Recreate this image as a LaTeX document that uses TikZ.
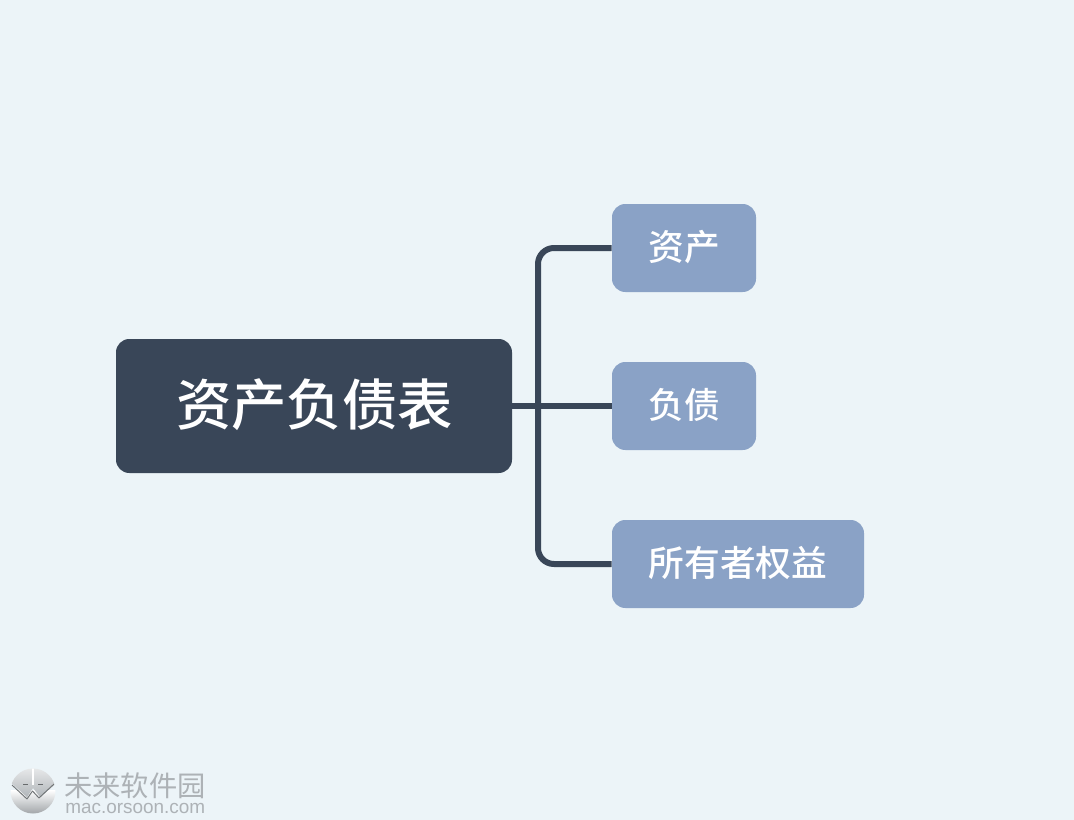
\documentclass[tikz,border=0pt]{standalone}
\usepackage{fontspec}
\setmainfont{Liberation Sans}
\newfontfamily\cjk{Noto Sans CJK SC Medium}
\newfontfamily\cjkplain{Noto Sans CJK SC}
\usetikzlibrary{shadings}
\definecolor{bgc}{HTML}{ECF4F8}
\definecolor{darkc}{HTML}{394658}
\definecolor{subc}{HTML}{8AA2C6}
\definecolor{wmc}{HTML}{ADB2B6}
\tikzset{
  x=0.75pt,y=-0.75pt,
  rootbox/.style={fill=darkc,rounded corners=10pt,inner sep=0},
  subbox/.style={fill=subc,rounded corners=10pt,inner sep=0},
  rootlabel/.style={text=white,inner sep=0,font=\cjk\fontsize{41.5}{42}\selectfont},
  sublabel/.style={text=white,inner sep=0,font=\cjk\fontsize{26.8}{27}\selectfont},
  conn/.style={draw=darkc,line width=4.5pt,rounded corners=12pt},
  wmtext/.style={text=wmc,inner sep=0,anchor=west}
}
\begin{document}
\begin{tikzpicture}
\useasboundingbox (0,0) rectangle (1074,820);
\fill[bgc] (0,0) rectangle (1074,820);

\coordinate (bus1) at (538,406);
\coordinate (bus0) at (538,248);
\coordinate (bus2) at (538,564);
\node[subbox,minimum width=108pt,minimum height=66pt] (a) at (684,248) {};
\node[subbox,minimum width=108pt,minimum height=66pt] (b) at (684,406) {};
\node[subbox,minimum width=189pt,minimum height=66pt] (c) at (738,564) {};
\node[rootbox,minimum width=297pt,minimum height=100.5pt] (root) at (314,406) {};
\draw[conn] (root.east) -- (b.west);
\draw[conn] (a.west) -- (bus0) -- (bus1) -- (bus2) -- (c.west);

\node[rootlabel] (roott) at (314.5,405) {资产负债表};
\node[sublabel] (at) at (684,247) {资产};
\node[sublabel] (bt) at (684,405) {负债};
\node[sublabel] (ct) at (738,563) {所有者权益};

% watermark logo
\begin{scope}
\clip (33,791) circle[radius=22.5];
\shade[top color=white,middle color=white,bottom color=wmc!90!black] (8,790) rectangle (58,815);
\shade[top color=wmc!25!white,bottom color=wmc!95!white]
  (8,766) -- (58,766) -- (58,782) -- (40,797) -- (33,788) -- (27,797) -- (8,780) -- cycle;
\draw[white,line width=1pt] (33,766) -- (33,785);
\draw[wmc!65!black,line width=.7pt,line join=round] (12,785) -- (27,799) -- (32.5,791) -- (39,798) -- (54,784);
\draw[wmc!60!black,line width=.7pt] (23,784) -- (28,784) (38,784) -- (43,784);
\end{scope}
\node[wmtext,font=\cjkplain\fontsize{21.2}{21}\selectfont] (wm1) at (64,786) {未来软件园};
\node[wmtext,font=\fontsize{14.2}{14}\selectfont] (wm2) at (65,808.5) {mac.orsoon.com};
\end{tikzpicture}
\end{document}
